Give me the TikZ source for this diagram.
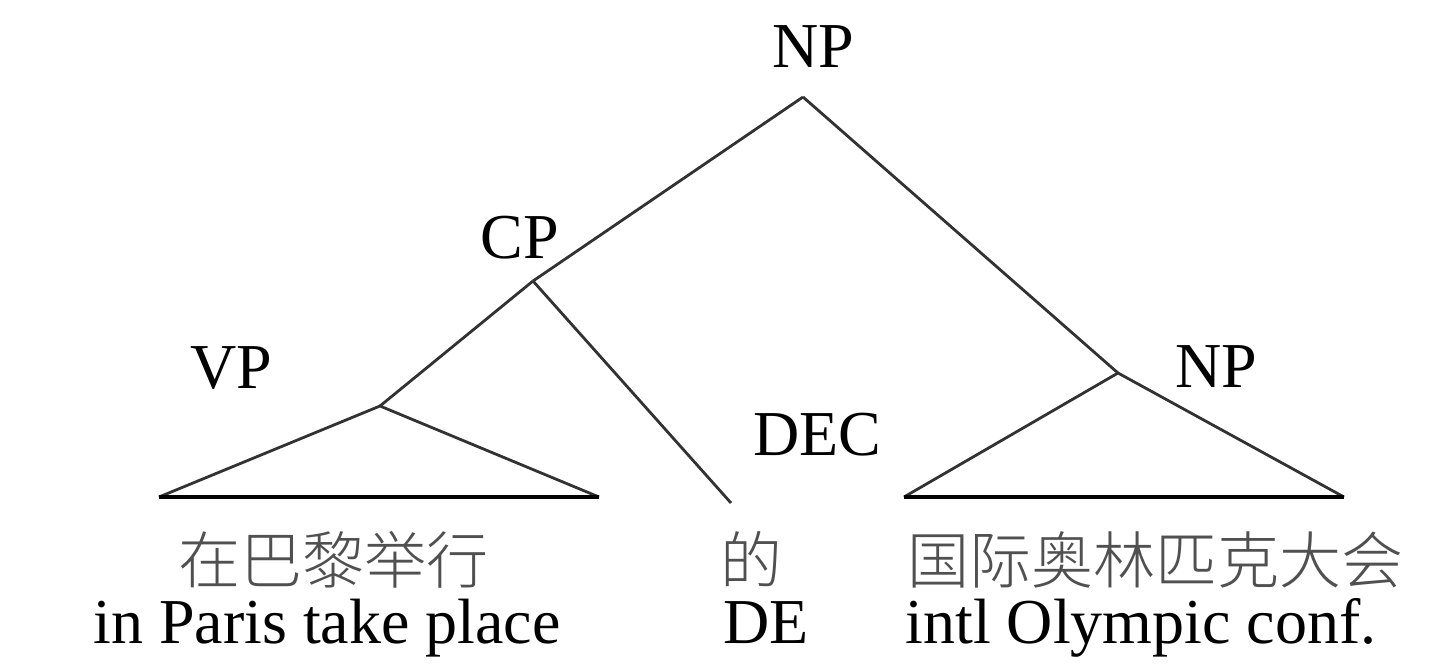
\documentclass[tikz,border=0pt]{standalone}
\usepackage{fontspec}
\setmainfont{Liberation Serif}
\newfontfamily\cjk{Noto Sans CJK SC Light}
\usepackage{xcolor}
\definecolor{branchgray}{RGB}{50,50,50}
\definecolor{hanzigray}{RGB}{80,80,80}
\usepackage{tikz}
\tikzset{
    common/.style={anchor=base, inner sep=0pt},
    cat/.style={common, font=\fontsize{64}{70}\selectfont},
    gloss/.style={common, font=\fontsize{64}{70}\selectfont},
    hanzi/.style={common, text=hanzigray, font=\cjk\fontsize{62}{70}\selectfont},
    branch/.style={draw=branchgray, line width=2.8pt},
    roof/.style={draw=black, line width=3.8pt}
}
\begin{document}
\begin{tikzpicture}[x=1pt, y=-1pt]
            \useasboundingbox (0,0) rectangle (1441,672);
            \path
                (813,67) node[cat] (np-top) {NP}
                (520,258) node[cat] (cp) {CP}
                (231,388) node[cat] (vp) {VP}
                (817,455) node[cat] (dec) {DEC}
                (1216,387) node[cat] (np-right) {NP};

            \coordinate (np-top-j) at (803,97);
            \coordinate (cp-j) at (533,281);
            \coordinate (vp-j) at (380,406);
            \coordinate (np-right-j) at (1118,373);
            \coordinate (vp-left) at (159,497);
            \coordinate (vp-right) at (599,497);
            \coordinate (np-left-end) at (904,497);
            \coordinate (np-right-end) at (1344,497);
            \coordinate (dec-end) at (731,503);

            \path
                (333,583) node[hanzi] (vp-zh) {在巴黎举行}
                (751,583) node[hanzi] (dec-zh) {的}
                (1155,583) node[hanzi] (np-zh) {国际奥林匹克大会}
                (327,643) node[gloss] (vp-en) {in Paris take place}
                (766,643) node[gloss] (dec-en) {DE}
                (1141,643) node[gloss] (np-en) {intl Olympic conf.};

            \draw[branch] (np-top-j) -- (cp-j) (np-top-j) -- (np-right-j);
            \draw[branch] (cp-j) -- (vp-j) (cp-j) -- (dec-end);
            \draw[branch] (vp-left) -- (vp-j) -- (vp-right);
            \draw[branch] (np-left-end) -- (np-right-j) -- (np-right-end);
            \draw[roof] (vp-left) -- (vp-right) (np-left-end) -- (np-right-end);
          \end{tikzpicture}
\end{document}
